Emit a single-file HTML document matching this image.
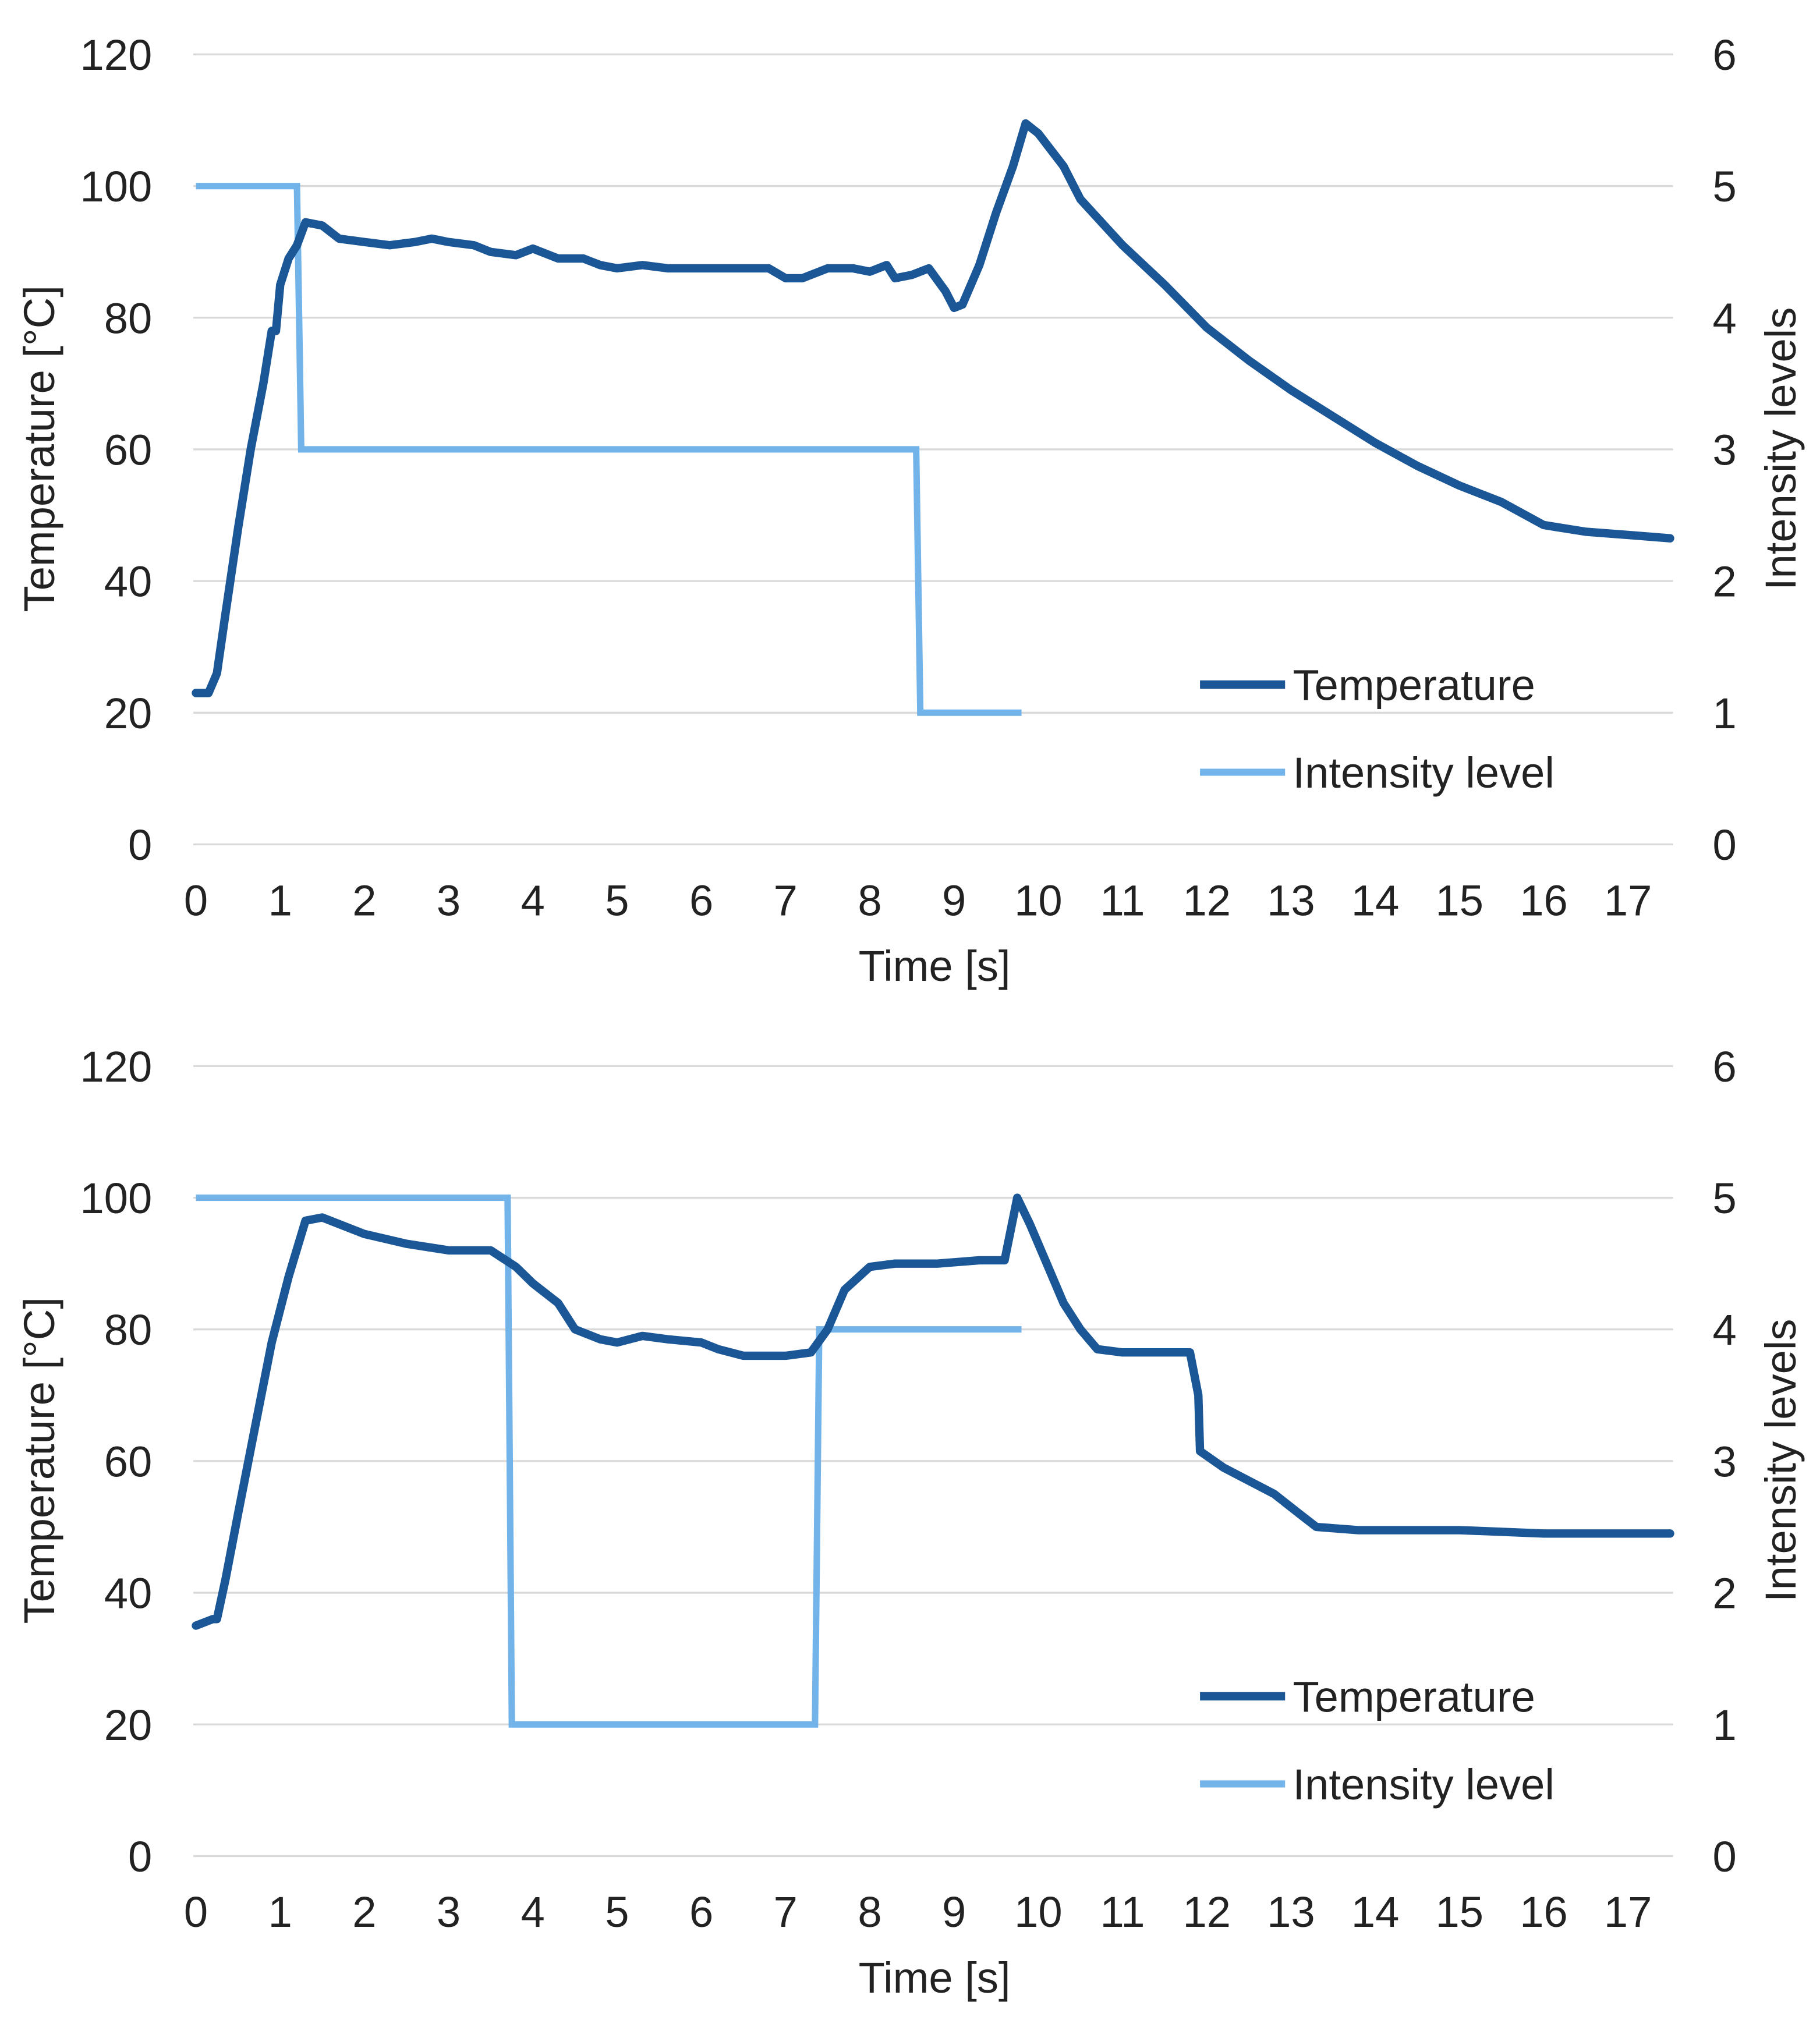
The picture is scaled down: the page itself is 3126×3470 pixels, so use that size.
<!DOCTYPE html>
<html><head><meta charset="utf-8"><style>
html,body{margin:0;padding:0;background:#fff}
svg{display:block}
text{font-family:"Liberation Sans",sans-serif;fill:#222}
</style></head><body>
<svg id="fig" width="3126" height="3470" viewBox="0 0 1412 1567" xmlns="http://www.w3.org/2000/svg"></svg>
<script>
const xTicks=[0,1,2,3,4,5,6,7,8,9,10,11,12,13,14,15,16,17];
const yTicks=[0,20,40,60,80,100,120];
const y2Ticks=[0,1,2,3,4,5,6];
const topTempT=[0,0.15,0.25,0.35,0.5,0.65,0.8,0.9,0.95,1.0,1.1,1.2,1.3,1.5,1.7,2,2.3,2.6,2.8,3,3.3,3.5,3.8,4.0,4.3,4.6,4.8,5,5.3,5.6,6,6.5,6.8,7,7.2,7.5,7.8,8.0,8.2,8.3,8.5,8.7,8.9,9.0,9.1,9.3,9.5,9.7,9.85,10,10.3,10.5,11,11.5,12,12.5,13,13.5,14,14.5,15,15.5,16,16.5,17,17.5];
const topTempV=[23,23,26,35,48,60,70,78,78,85,89,91,94.5,94,92,91.5,91,91.5,92,91.5,91,90,89.5,90.5,89,89,88,87.5,88,87.5,87.5,87.5,87.5,86,86,87.5,87.5,87,88,86,86.5,87.5,84,81.5,82,88,96,103,109.5,108,103,98,91,85,78.5,73.5,69,65,61,57.5,54.5,52,48.5,47.5,47,46.5];
const topIntT=[0,1.2,1.25,8.55,8.6,9.8];
const topIntV=[5,5,3,3,1,1];
const botTempT=[0,0.2,0.25,0.35,0.5,0.7,0.9,1.1,1.3,1.5,1.8,2,2.5,3,3.3,3.5,3.8,4,4.3,4.5,4.8,5,5.3,5.6,6,6.2,6.5,7,7.3,7.5,7.7,8,8.3,8.8,9.3,9.6,9.75,9.9,10.1,10.3,10.5,10.7,11,11.8,11.9,11.92,12.2,12.5,12.8,13.1,13.3,13.8,15,16,17,17.5];
const botTempV=[35,36,36,42,52,65,78,88,96.5,97,95.5,94.5,93,92,92,92,89.5,87,84,80,78.5,78,79,78.5,78,77,76,76,76.5,80,86,89.5,90,90,90.5,90.5,100,96,90,84,80,77,76.5,76.5,70,61.5,59,57,55,52,50,49.5,49.5,49,49,49];
const botIntT=[0,3.7,3.75,7.35,7.4,9.8];
const botIntV=[5,5,1,1,4,4];

const NS="http://www.w3.org/2000/svg";
const svg=document.getElementById('fig');
function el(tag,attrs,parent){const e=document.createElementNS(NS,tag);for(const k in attrs)e.setAttribute(k,attrs[k]);(parent||svg).appendChild(e);return e;}
function txt(s,attrs,parent){const e=el('text',attrs,parent);e.textContent=s;return e;}
const FS=33.5;
function chart(name,top,tT,tV,iT,iV){
  const g=el('g',{});
  
  
  const y0=top+613, yScale=v=>y0-v*(613/120), y2Scale=v=>y0-v*(613/6);
  const xScale=t=>152+t*(1111/17);
  yTicks.forEach(v=>{
    const l=el('line',{x1:150,x2:1298,y1:yScale(v),y2:yScale(v),stroke:'#d9d9d9','stroke-width':1.5},g);
    
    
    const t=txt(String(v),{x:118,y:yScale(v)+12,'text-anchor':'end','font-size':FS},g);
    
    
  });
  y2Ticks.forEach(v=>{
    const t=txt(String(v),{x:1338,y:y2Scale(v)+12,'text-anchor':'middle','font-size':FS},g);
    
    
  });
  xTicks.forEach(v=>{
    const t=txt(String(v),{x:xScale(v),y:y0+55,'text-anchor':'middle','font-size':FS},g);
    
    
  });
  let t=txt('Time [s]',{x:725,y:y0+106,'text-anchor':'middle','font-size':FS},g);
  
  
  const cy=top+306;
  t=txt('Temperature [°C]',{x:0,y:0,'text-anchor':'middle','font-size':FS,transform:`translate(42,${cy}) rotate(-90)`},g);
  
  
  t=txt('Intensity levels',{x:0,y:0,'text-anchor':'middle','font-size':FS,transform:`translate(1393,${cy}) rotate(-90)`},g);
  
  
  const ip=iT.map((x,i)=>xScale(x).toFixed(1)+','+y2Scale(iV[i]).toFixed(1)).join(' ');
  let p=el('polyline',{points:ip,fill:'none',stroke:'#72b3ea','stroke-width':5,'stroke-linejoin':'miter'},g);
  
  
  const tp=tT.map((x,i)=>xScale(x).toFixed(1)+','+yScale(tV[i]).toFixed(1)).join(' ');
  p=el('polyline',{points:tp,fill:'none',stroke:'#1b5797','stroke-width':6.5,'stroke-linejoin':'round','stroke-linecap':'round'},g);
  
  
  const leg=el('g',{},g);
  
  
  const ly1=top+489, ly2=top+557;
  let l=el('line',{x1:931,x2:997,y1:ly1,y2:ly1,stroke:'#1b5797','stroke-width':6.5},leg);
  
  
  t=txt('Temperature',{x:1003,y:ly1+12,'font-size':FS},leg);
  
  
  l=el('line',{x1:931,x2:997,y1:ly2,y2:ly2,stroke:'#72b3ea','stroke-width':5.5},leg);
  
  
  t=txt('Intensity level',{x:1003,y:ly2+12,'font-size':FS},leg);
  
  
}
chart('top-chart',42,topTempT,topTempV,topIntT,topIntV);
chart('bottom-chart',827,botTempT,botTempV,botIntT,botIntV);
</script>
</body></html>
